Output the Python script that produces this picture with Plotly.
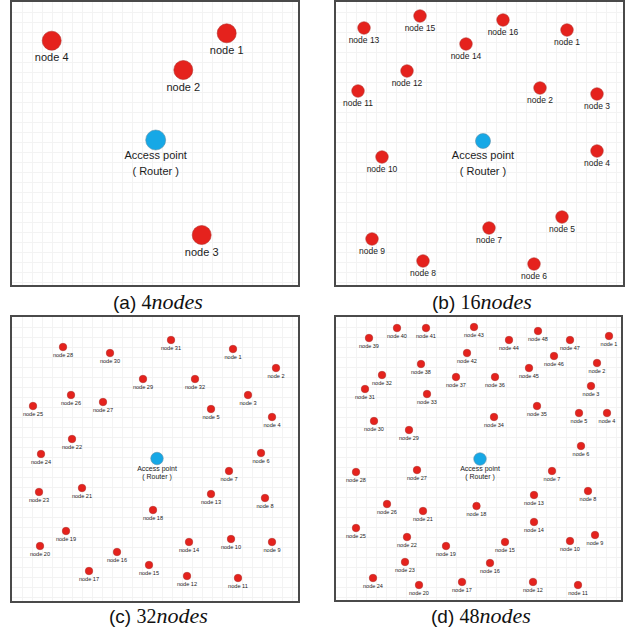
import plotly.graph_objects as go

FIG_W, FIG_H = 628, 632

# ---------------- data (node positions inside each field, x right, y down) ----------------
# (a) 4 nodes
a_x = [214.7, 171.3, 189.7, 39.7]
a_y = [31.3, 68.0, 233.0, 38.7]
a_ap = [143.7, 138.0]

# (b) 16 nodes
b_x = [231, 204, 261, 261, 226, 198, 153, 87, 36, 46, 22, 71, 28, 130, 84, 167]
b_y = [28, 86, 92, 149, 215, 262, 226, 259, 237, 155, 89, 69, 26, 42, 14, 18]
b_ap = [147, 139]

# (c) 32 nodes
c_x = [221, 264, 236, 260, 199, 249, 217, 253, 260, 219, 226, 175, 199, 177, 137, 105,
       77, 141, 54, 28, 70, 60, 27, 29, 21, 59, 91, 51, 131, 98, 159, 183]
c_y = [32, 51, 78, 100, 92, 136, 154, 181, 225, 222, 261, 259, 177, 225, 248, 235,
       254, 193, 214, 229, 171, 122, 175, 137, 89, 78, 85, 30, 62, 36, 23, 62]
c_ap = [145, 141.5]

# (d) 48 nodes
d_x = [273, 261, 255, 271, 243, 245, 216, 252, 259, 234, 242, 197, 198, 198, 169, 154,
       126, 140.5, 110, 83, 87, 71, 69, 37, 20, 51, 81, 20, 73, 38, 29, 46,
       91, 158, 201, 159, 120, 85, 33, 61, 90, 131, 138, 173, 193, 218, 234, 202]
d_y = [19, 46, 69, 96, 96, 129, 154, 174, 218, 224, 268, 265, 178, 205, 225, 246,
       265, 189, 229, 268, 194, 220, 245, 261, 211, 187, 153, 155, 113, 104, 72, 58,
       77, 100, 89, 60, 60, 47, 21, 11, 11, 36, 10, 23, 51, 39, 23, 14]
d_ap = [144, 142]

ap_lines = ["Access point", "( Router )"]
captions = [("(a)", "4", "nodes"), ("(b)", "16", "nodes"), ("(c)", "32", "nodes"), ("(d)", "48", "nodes")]

# ---------------- styling ----------------
RED = "#e5221d"
RED_EDGE = "#b3312c"
BLUE = "#16a8e6"
BLUE_EDGE = "#5a8fa8"
TXT = "#1c1c1c"
SANS = "Liberation Sans, Arial, sans-serif"

panels = [
    dict(x=a_x, y=a_y, ap=a_ap, box=(12, 2, 298, 285), nd=19, apd=20, fs=11, off=18,
         apfs=11, apoff=(16.7, 32.3), cap_xy=(158, 301)),
    dict(x=b_x, y=b_y, ap=b_ap, box=(336, 2, 623, 285), nd=12.5, apd=15, fs=8.5, off=13,
         apfs=11, apoff=(15.3, 31.0), cap_xy=(482, 301)),
    dict(x=c_x, y=c_y, ap=c_ap, box=(12, 317, 298, 601), nd=7.5, apd=12.5, fs=5.6, off=9,
         apfs=7, apoff=(10.5, 18.5), cap_xy=(158, 615)),
    dict(x=d_x, y=d_y, ap=d_ap, box=(336, 317, 621, 600), nd=7.5, apd=12.5, fs=5.5, off=9,
         apfs=7, apoff=(10.5, 18.5), cap_xy=(481, 615)),
]

fig = go.Figure()
annotations = []

for i, p in enumerate(panels, start=1):
    sfx = "" if i == 1 else str(i)
    xr, yr = "x" + sfx, "y" + sfx
    l, t, r, b = p["box"]
    names = [f"node {k + 1}" for k in range(len(p["x"]))]

    # nodes
    fig.add_trace(go.Scatter(
        x=p["x"], y=p["y"], mode="markers", xaxis=xr, yaxis=yr, hoverinfo="skip",
        marker=dict(size=p["nd"], color=RED, line=dict(color=RED_EDGE, width=0.6)),
        showlegend=False))
    # node labels
    fig.add_trace(go.Scatter(
        x=p["x"], y=[v + p["off"] for v in p["y"]], mode="text", text=names,
        textposition="middle center", xaxis=xr, yaxis=yr, hoverinfo="skip",
        textfont=dict(family=SANS, size=p["fs"], color=TXT), showlegend=False))
    # access point
    fig.add_trace(go.Scatter(
        x=[p["ap"][0]], y=[p["ap"][1]], mode="markers", xaxis=xr, yaxis=yr, hoverinfo="skip",
        marker=dict(size=p["apd"], color=BLUE, line=dict(color=BLUE_EDGE, width=0.6)),
        showlegend=False))
    fig.add_trace(go.Scatter(
        x=[p["ap"][0], p["ap"][0]], y=[p["ap"][1] + p["apoff"][0], p["ap"][1] + p["apoff"][1]],
        mode="text", text=ap_lines, textposition="middle center", xaxis=xr, yaxis=yr,
        hoverinfo="skip", textfont=dict(family=SANS, size=p["apfs"], color=TXT),
        showlegend=False))

    axis_common = dict(showgrid=True, gridcolor="#f3f3f3", gridwidth=1, dtick=10, tick0=0,
                       zeroline=False, showticklabels=False, ticks="",
                       showline=True, mirror=True, linecolor="#4a4a4a", linewidth=1.5,
                       fixedrange=True)
    fig.layout["xaxis" + sfx] = dict(domain=[l / FIG_W, r / FIG_W], range=[0, r - l],
                                     anchor=yr, **axis_common)
    fig.layout["yaxis" + sfx] = dict(domain=[1 - b / FIG_H, 1 - t / FIG_H], range=[b - t, 0],
                                     anchor=xr, **axis_common)

    lab, num, it = captions[i - 1]
    cx, cy = p["cap_xy"]
    annotations.append(dict(
        x=cx / FIG_W, y=1 - cy / FIG_H, xref="paper", yref="paper", showarrow=False,
        xanchor="center", yanchor="middle",
        text=(lab + "&nbsp;"
              + '<span style="font-family:Liberation Serif;font-size:20px">' + num + "</span>"
              + '<span style="font-family:Liberation Serif;font-size:22px"><i>' + it + "</i></span>"),
        font=dict(family=SANS, size=19, color="#111111")))

fig.update_layout(
    width=FIG_W, height=FIG_H, margin=dict(l=0, r=0, t=0, b=0),
    paper_bgcolor="white", plot_bgcolor="white", annotations=annotations,
    hovermode=False)

fig.write_html("out.html")
